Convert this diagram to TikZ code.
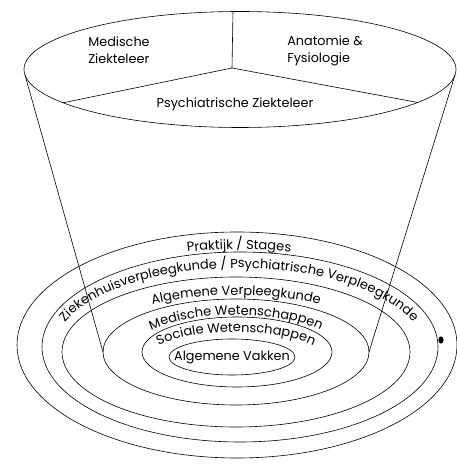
\documentclass[tikz,border=0pt]{standalone}
\usepackage{fontspec}
\setmainfont{Poppins}
\usetikzlibrary{decorations.text}
\newcommand\ringfont{\fontsize{13}{15}\selectfont}
\tikzset{
  lbl/.style={inner sep=0pt,font=\fontsize{12.8}{17}\selectfont},
  ringtext/.style={decorate,decoration={text along path,text align=center,text={|\ringfont|#1}}}
}

\begin{document}
\begin{tikzpicture}[x=1pt,y=1pt,line width=0.6pt]
	\useasboundingbox (0,0) rectangle (457,466);

	% top of the funnel
	\coordinate (top) at (240,396.5);
	\coordinate (mid) at (232,398);
	\draw (top) ellipse [x radius=216, y radius=58];
	\draw (mid) -- (233,454.5);
	\draw (mid) -- (63,363.2);
	\draw (mid) -- (418,363.5);

	% sides of the funnel
	\draw (25,391) -- (103,114);
	\draw (455,391) -- (369,114);

	% rings
	\foreach \cx/\cy/\rx/\ry in {232/109/63/18, 237/114/95/35, 236/114/133/53, 236/114/174/75, 240/119/198/95, 237/121/220/113}{
		\draw (\cx,\cy) ellipse [x radius=\rx, y radius=\ry];
	}
	\fill (441,126) ellipse [x radius=2.6, y radius=3.6];

	\node[lbl,align=left,anchor=west] (medzk) at (88,415.5) {Medische\\Ziekteleer};
	\node[lbl,align=left,anchor=west] (anatfys) at (287,415.5) {Anatomie \&\\Fysiologie};
	\node[lbl] (psyzk) at (235,362) {Psychiatrische Ziekteleer};
	\node[lbl] (algvak) at (232,109) {Algemene Vakken};

	\path[ringtext={Praktijk / Stages}] (30,120) arc[start angle=180, end angle=0, x radius=209, y radius=97];
	\path[ringtext={Ziekenhuisverpleegkunde / Psychiatrische Verpleegkunde}] (53,114) arc[start angle=180, end angle=0, x radius=186, y radius=84];
	\path[ringtext={Algemene Verpleegkunde}] (83,114) arc[start angle=180, end angle=0, x radius=153, y radius=57];
	\path[ringtext={Medische Wetenschappen}] (128,111) arc[start angle=180, end angle=0, x radius=108, y radius=40];
	\path[ringtext={Sociale Wetenschappen}] (148,108) arc[start angle=180, end angle=0, x radius=88, y radius=26];
\end{tikzpicture}
\end{document}
